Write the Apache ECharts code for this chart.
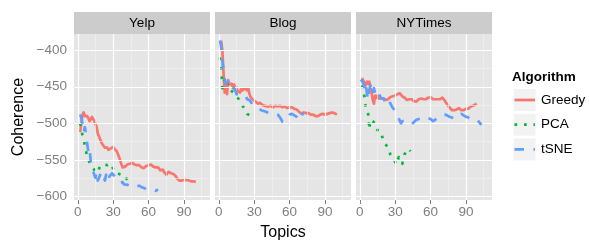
<!DOCTYPE html>
<html>
<head>
<meta charset="utf-8">
<script src="https://cdn.jsdelivr.net/npm/echarts@6/dist/echarts.min.js"></script>
<style>html,body{margin:0;padding:0;background:#fff;}#c{width:589px;height:240px;}</style>
</head>
<body>
<div id="c"></div>
<script>
// ---- data ----
const panels = ['Yelp', 'Blog', 'NYTimes'];
const algorithms = ['Greedy', 'PCA', 'tSNE'];
const xTicks = [0, 30, 60, 90];
const xMinor = [15, 45, 75, 105];
const yTicks = [-600, -550, -500, -450, -400];
const yMinor = [-575, -525, -475, -425];

const yelpGreedy = [[2,-512],[3,-500],[4,-488],[5,-485],[6,-490],[7,-492],[8,-490],[9,-493],[10,-497],[11,-494],[12,-491],[13,-493],[14,-497],[15,-496],[16,-505],[17,-514],[18,-518],[19,-522],[20,-526],[21,-529],[22,-531],[23,-533],[24,-534],[25,-533],[26,-536],[27,-535],[28,-534],[29,-536],[30,-532],[31,-535],[32,-534],[33,-538],[34,-542],[35,-546],[36,-551],[37,-556],[38,-560],[39,-561],[40,-559],[41,-558],[42,-556],[43,-554],[44,-555],[45,-553],[46,-554],[47,-555],[48,-556],[49,-555],[50,-557],[51,-558],[52,-557],[53,-559],[54,-560],[55,-558],[56,-561],[57,-560],[58,-558],[59,-559],[60,-557],[61,-558],[62,-556],[63,-558],[64,-559],[65,-558],[66,-560],[67,-561],[68,-560],[69,-562],[70,-564],[71,-565],[72,-563],[73,-566],[74,-568],[75,-570],[76,-569],[77,-566],[78,-565],[79,-568],[80,-566],[81,-569],[82,-570],[83,-572],[84,-575],[85,-577],[86,-578],[87,-577],[88,-578],[89,-578],[90,-577],[91,-578],[92,-577],[93,-578],[94,-578],[95,-577],[96,-579],[97,-578],[98,-579],[99,-580],[100,-580]];
const yelpPCA = [[2,-500],[3,-508],[4,-516],[5,-522],[6,-530],[7,-538],[8,-546],[9,-550],[10,-553],[11,-556],[12,-558],[13,-561],[14,-563],[15,-566],[16,-565],[17,-567],[18,-562],[19,-558],[20,-556],[21,-556],[22,-557],[23,-556],[24,-557],[25,-557],[26,-556],[27,-555],[28,-553],[29,-556],[30,-563],[31,-566],[32,-567],[33,-568],[34,-569],[35,-569],[36,-570],[37,-570],[38,-571],[39,-570],[40,-572],[41,-575],[42,-577],[43,-579],[44,-580]];
const yelpTSNE = [[2,-488],[3,-492],[4,-500],[5,-512],[6,-505],[7,-515],[8,-528],[9,-540],[10,-535],[11,-552],[12,-560],[13,-565],[14,-570],[15,-574],[16,-566],[17,-578],[18,-576],[19,-570],[20,-568],[21,-566],[22,-574],[23,-578],[24,-570],[25,-566],[26,-575],[27,-572],[28,-570],[29,-568],[30,-570],[31,-572],[32,-575],[33,-577],[34,-579],[35,-578],[36,-581],[37,-582],[38,-580],[39,-583],[40,-585],[42,-584],[44,-582],[46,-583],[48,-584],[50,-586],[52,-585],[54,-587],[56,-588],[58,-590],[60,-591],[62,-592],[64,-591],[66,-592],[68,-590]];

const blogGreedy = [[2,-387],[3,-400],[4,-430],[5,-458],[6,-445],[7,-460],[8,-441],[9,-447],[10,-449],[11,-446],[12,-452],[13,-447],[14,-455],[15,-451],[16,-456],[17,-455],[18,-458],[19,-452],[20,-455],[21,-457],[22,-452],[23,-450],[24,-455],[25,-452],[26,-460],[27,-464],[28,-466],[29,-468],[30,-469],[31,-470],[32,-472],[33,-473],[34,-474],[35,-472],[36,-474],[37,-475],[38,-474],[39,-476],[40,-475],[42,-477],[44,-476],[46,-478],[48,-476],[50,-477],[52,-476],[54,-478],[56,-477],[58,-479],[60,-478],[62,-478],[64,-480],[66,-481],[68,-484],[70,-487],[72,-485],[74,-486],[76,-486],[78,-488],[80,-488],[82,-490],[84,-490],[86,-488],[88,-487],[90,-488],[92,-487],[94,-486],[96,-485],[97,-487],[98,-486],[99,-488],[100,-488]];
const blogPCA = [[1,-410],[1.5,-418],[2,-426],[2.5,-437],[3,-452],[4,-445],[5,-440],[6,-437],[7,-443],[8,-450],[9,-453],[10,-455],[11,-456],[12,-457],[13,-459],[14,-461],[15,-464],[16,-466],[17,-467],[18,-469],[19,-473],[20,-475],[21,-478],[22,-481],[23,-484],[24,-487],[25,-488],[26,-489],[27,-489],[28,-490],[29,-490],[30,-490]];
const blogTSNE = [[1,-387],[2,-395],[3,-412],[4,-428],[5,-440],[6,-446],[7,-448],[8,-443],[9,-446],[10,-448],[11,-444],[12,-450],[13,-452],[14,-455],[15,-460],[16,-462],[17,-461],[18,-463],[19,-460],[20,-458],[21,-462],[22,-460],[23,-463],[24,-467],[25,-466],[26,-468],[27,-470],[28,-473],[29,-476],[30,-476],[32,-478],[34,-480],[36,-482],[38,-483],[40,-484],[42,-486],[44,-487],[46,-486],[48,-487],[50,-488],[52,-492],[54,-498],[56,-496],[58,-492],[60,-488],[62,-487],[64,-489],[66,-491],[68,-496],[70,-490],[72,-485]];

const nytGreedy = [[2,-438],[3,-442],[4,-440],[5,-448],[6,-443],[7,-446],[8,-443],[9,-450],[10,-458],[11,-468],[12,-473],[13,-462],[14,-465],[15,-462],[16,-466],[17,-464],[18,-466],[19,-468],[20,-466],[21,-467],[22,-468],[23,-466],[24,-467],[25,-465],[26,-464],[27,-463],[28,-463],[29,-462],[30,-462],[31,-461],[32,-460],[33,-460],[34,-459],[35,-461],[36,-463],[37,-462],[38,-465],[39,-467],[40,-468],[41,-466],[42,-467],[43,-465],[44,-467],[45,-469],[46,-470],[47,-468],[48,-470],[49,-468],[50,-467],[51,-466],[52,-466],[53,-468],[54,-467],[55,-465],[56,-467],[57,-466],[58,-465],[59,-464],[60,-464],[61,-466],[62,-467],[63,-466],[64,-467],[65,-466],[66,-467],[67,-466],[68,-467],[69,-466],[70,-465],[71,-467],[72,-469],[73,-471],[74,-474],[75,-476],[76,-478],[77,-480],[78,-482],[79,-481],[80,-482],[81,-480],[82,-481],[83,-480],[84,-479],[85,-481],[86,-482],[87,-483],[88,-482],[89,-481],[90,-480],[91,-479],[92,-480],[93,-478],[94,-477],[95,-478],[96,-476],[97,-475],[98,-474],[99,-473]];
const nytPCA = [[2,-448],[3,-455],[4,-464],[5,-478],[6,-482],[7,-485],[8,-508],[9,-495],[10,-496],[11,-497],[12,-498],[13,-500],[14,-508],[15,-509],[16,-510],[17,-510],[18,-511],[19,-518],[20,-525],[21,-527],[22,-529],[23,-531],[24,-533],[25,-538],[26,-543],[27,-546],[28,-548],[29,-549],[30,-553],[31,-556],[32,-551],[33,-546],[34,-548],[35,-552],[36,-555],[37,-548],[38,-542],[39,-539],[40,-535],[41,-533],[42,-536],[43,-538]];
const nytTSNE = [[1,-440],[2,-438],[3,-445],[4,-452],[5,-445],[6,-458],[7,-468],[8,-455],[9,-448],[10,-455],[11,-460],[12,-452],[13,-460],[14,-464],[15,-463],[16,-466],[17,-462],[18,-466],[19,-468],[20,-466],[21,-469],[22,-468],[23,-472],[24,-475],[25,-470],[26,-472],[27,-476],[28,-479],[29,-481],[30,-483],[31,-486],[32,-488],[33,-493],[34,-497],[35,-500],[36,-497],[37,-495],[38,-496],[40,-498],[42,-499],[44,-501],[46,-498],[48,-495],[50,-494],[52,-493],[54,-492],[56,-491],[58,-493],[60,-494],[62,-497],[64,-495],[66,-492],[68,-490],[70,-488],[72,-488],[74,-489],[76,-491],[78,-492],[80,-493],[82,-493],[84,-490],[86,-487],[88,-489],[90,-491],[92,-492],[94,-494],[96,-495],[98,-494],[100,-496],[102,-500],[103,-502]];

const panelData = [
  [yelpGreedy, yelpPCA, yelpTSNE],
  [blogGreedy, blogPCA, blogTSNE],
  [nytGreedy, nytPCA, nytTSNE]
];

// ---- styling / layout ----
const FONT = '"Liberation Sans", Arial, sans-serif';
const colors = ['#F8766D', '#00BA38', '#619CFF'];
const LW = 2.7;
const dashes = ['solid', [2.7, 6.8], [9.5, 9.5]];
const gridLefts = [74, 215, 356];
const GW = 136, GT = 34, GH = 166;
const xMin = -3.2, xMax = 112;
const yMin = -604.5, yMax = -378;
const minus = v => String(v).replace('-', '\u2212');

const grids = [], xAxes = [], yAxes = [], series = [], graphics = [];
panels.forEach((p, i) => {
  grids.push({left: gridLefts[i], top: GT, width: GW, height: GH, show: true,
    backgroundColor: '#E5E5E5', borderWidth: 0});
  xAxes.push({type: 'value', gridIndex: i, min: xMin, max: xMax,
    axisLine: {show: false}, splitLine: {show: false},
    axisTick: {show: true, customValues: xTicks, length: 4, lineStyle: {color: '#7F7F7F', width: 1}},
    axisLabel: {show: true, customValues: xTicks, color: '#7F7F7F', fontSize: 13.5, fontFamily: FONT, margin: 5}
  });
  yAxes.push({type: 'value', gridIndex: i, min: yMin, max: yMax,
    axisLine: {show: false}, splitLine: {show: false},
    axisTick: {show: i === 0, customValues: yTicks, length: 4, lineStyle: {color: '#7F7F7F', width: 1}},
    axisLabel: {show: i === 0, customValues: yTicks, color: '#7F7F7F', fontSize: 13.5, fontFamily: FONT, margin: 7,
      formatter: v => minus(v)}
  });
  const ml = [];
  xMinor.forEach(v => ml.push({xAxis: v, lineStyle: {color: '#F2F2F2', width: 0.6, type: 'solid'}}));
  yMinor.forEach(v => ml.push({yAxis: v, lineStyle: {color: '#F2F2F2', width: 0.6, type: 'solid'}}));
  xTicks.forEach(v => ml.push({xAxis: v, lineStyle: {color: '#FFFFFF', width: 1.2, type: 'solid'}}));
  yTicks.forEach(v => ml.push({yAxis: v, lineStyle: {color: '#FFFFFF', width: 1.2, type: 'solid'}}));
  series.push({type: 'line', xAxisIndex: i, yAxisIndex: i, data: [], z: 1, silent: true,
    markLine: {silent: true, symbol: 'none', label: {show: false}, animation: false, data: ml}});
  algorithms.forEach((a, k) => {
    series.push({name: a, type: 'line', xAxisIndex: i, yAxisIndex: i, z: 3 + k,
      data: panelData[i][k], showSymbol: false, symbol: 'none', silent: true,
      lineStyle: {color: colors[k], width: LW, type: dashes[k], cap: 'butt', join: 'round'}});
  });
  graphics.push({type: 'rect', shape: {x: gridLefts[i], y: 12, width: GW, height: 22},
    style: {fill: '#CCCCCC'}});
  graphics.push({type: 'text', x: gridLefts[i] + GW / 2, y: 23,
    style: {text: p, fill: '#000', font: '13.5px ' + FONT, align: 'center', verticalAlign: 'middle'}});
});

// axis titles
graphics.push({type: 'text', x: 283, y: 233,
  style: {text: 'Topics', fill: '#000', font: '16px ' + FONT, align: 'center', verticalAlign: 'middle'}});
graphics.push({type: 'text', x: 19, y: 117, rotation: Math.PI / 2,
  style: {text: 'Coherence', fill: '#000', font: '16px ' + FONT, align: 'center', verticalAlign: 'middle'}});

// legend
graphics.push({type: 'text', x: 512, y: 77,
  style: {text: 'Algorithm', fill: '#000', font: 'bold 13.5px ' + FONT, align: 'left', verticalAlign: 'middle'}});
algorithms.forEach((a, k) => {
  const cy = 100 + k * 24.7;
  graphics.push({type: 'rect', shape: {x: 513, y: cy - 11.5, width: 23, height: 23},
    style: {fill: '#F2F2F2', stroke: '#FFFFFF', lineWidth: 1}});
  graphics.push({type: 'line', shape: {x1: 514.5, y1: cy, x2: 535, y2: cy},
    style: {stroke: colors[k], lineWidth: LW, lineDash: k === 0 ? null : dashes[k], lineCap: 'butt'}});
  graphics.push({type: 'text', x: 541, y: cy,
    style: {text: a, fill: '#000', font: '13.5px ' + FONT, align: 'left', verticalAlign: 'middle'}});
});

const chart = echarts.init(document.getElementById('c'), null, {renderer: 'canvas'});
chart.setOption({
  animation: false,
  grid: grids, xAxis: xAxes, yAxis: yAxes, series: series,
  graphic: {elements: graphics}
});
</script>
</body>
</html>
